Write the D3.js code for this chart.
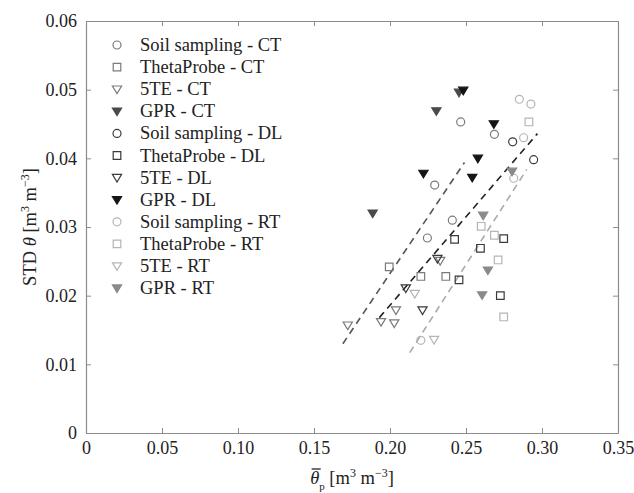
<!DOCTYPE html>
<html>
<head>
<meta charset="utf-8">
<title>STD theta vs mean theta</title>
<script src="https://d3js.org/d3.v7.min.js"></script>
<style>
body { margin: 0; background: #fff; }
</style>
</head>
<body>
<svg id="chart" width="634" height="493"></svg>
<script>
// mean theta_p, STD theta  [m3 m-3]
var soilCT  = [[0.2465, 0.0453], [0.2687, 0.0435], [0.2294, 0.0361], [0.2410, 0.0310], [0.2246, 0.0284]];
var probeCT = [[0.1995, 0.0242], [0.2203, 0.0228], [0.2367, 0.0228]];
var teCT    = [[0.2039, 0.0179], [0.1941, 0.0162], [0.2028, 0.0160], [0.1722, 0.0157], [0.2330, 0.0251]];
var gprCT   = [[0.2454, 0.0496], [0.2305, 0.0469], [0.1886, 0.0320]];

var soilDL  = [[0.2807, 0.0424], [0.2945, 0.0398]];
var probeDL = [[0.2454, 0.0223], [0.2425, 0.0282], [0.2748, 0.0283], [0.2595, 0.0269], [0.2726, 0.0200]];
var teDL    = [[0.2312, 0.0254], [0.2104, 0.0211], [0.2214, 0.0179]];
var gprDL   = [[0.2482, 0.0499], [0.2683, 0.0450], [0.2578, 0.0400], [0.2220, 0.0378], [0.2541, 0.0372]];

var soilRT  = [[0.2851, 0.0486], [0.2927, 0.0479], [0.2879, 0.0430], [0.2814, 0.0371], [0.2203, 0.0135]];
var probeRT = [[0.2914, 0.0453], [0.2600, 0.0301], [0.2687, 0.0288], [0.2711, 0.0252], [0.2748, 0.0169]];
var teRT    = [[0.2163, 0.0203], [0.2290, 0.0136]];
var gprRT   = [[0.2613, 0.0317], [0.2803, 0.0381], [0.2644, 0.0237], [0.2606, 0.0201]];

// fitted lines, end points
var fitCT = [[0.169, 0.0130], [0.249, 0.0394]];
var fitDL = [[0.193, 0.0168], [0.297, 0.0436]];
var fitRT = [[0.213, 0.0117], [0.290, 0.0384]];

var xTicks = [0, 0.05, 0.10, 0.15, 0.20, 0.25, 0.30, 0.35];
var yTicks = [0, 0.01, 0.02, 0.03, 0.04, 0.05, 0.06];

var series = [
  {name: "Soil sampling - CT", data: soilCT,  shape: "circle",  col: "#7a7a7a", filled: false},
  {name: "ThetaProbe - CT",    data: probeCT, shape: "square",  col: "#7a7a7a", filled: false},
  {name: "5TE - CT",           data: teCT,    shape: "tri",     col: "#7a7a7a", filled: false},
  {name: "GPR - CT",           data: gprCT,   shape: "tri",     col: "#4a4a4a", filled: true},
  {name: "Soil sampling - DL", data: soilDL,  shape: "circle",  col: "#3a3a3a", filled: false},
  {name: "ThetaProbe - DL",    data: probeDL, shape: "square",  col: "#3a3a3a", filled: false},
  {name: "5TE - DL",           data: teDL,    shape: "tri",     col: "#3a3a3a", filled: false},
  {name: "GPR - DL",           data: gprDL,   shape: "tri",     col: "#151515", filled: true},
  {name: "Soil sampling - RT", data: soilRT,  shape: "circle",  col: "#b5b5b5", filled: false},
  {name: "ThetaProbe - RT",    data: probeRT, shape: "square",  col: "#b5b5b5", filled: false},
  {name: "5TE - RT",           data: teRT,    shape: "tri",     col: "#b5b5b5", filled: false},
  {name: "GPR - RT",           data: gprRT,   shape: "tri",     col: "#8a8a8a", filled: true}
];
var fits = [
  {data: fitCT, col: "#555"},
  {data: fitDL, col: "#222"},
  {data: fitRT, col: "#aaa"}
];

var svg = d3.select("#chart");
var L = 86, R = 618, T = 21, B = 433;
var serif = "Liberation Serif";

var x = d3.scaleLinear().domain([0, 0.35]).range([L, R]);
var y = d3.scaleLinear().domain([0, 0.06]).range([B, T]);

// axes, matlab style box with inward ticks
var fmt = function(d) { return d === 0 ? "0" : d3.format(".2f")(d); };

svg.append("g").attr("transform", "translate(0," + B + ")")
  .call(d3.axisBottom(x).tickValues(xTicks).tickSizeInner(-5).tickSizeOuter(0).tickPadding(8).tickFormat(fmt));
svg.append("g").attr("transform", "translate(0," + T + ")")
  .call(d3.axisTop(x).tickValues(xTicks).tickSizeInner(-5).tickSizeOuter(0).tickFormat(""));
svg.append("g").attr("transform", "translate(" + L + ",0)")
  .call(d3.axisLeft(y).tickValues(yTicks).tickSizeInner(-5).tickSizeOuter(0).tickPadding(9).tickFormat(fmt));
svg.append("g").attr("transform", "translate(" + R + ",0)")
  .call(d3.axisRight(y).tickValues(yTicks).tickSizeInner(-5).tickSizeOuter(0).tickFormat(""));

svg.selectAll("g").attr("font-family", serif).attr("font-size", 18);
svg.selectAll(".domain").attr("stroke", "#8c8c8c").attr("stroke-width", 1.2);
svg.selectAll(".tick line").attr("stroke", "#8c8c8c");
svg.selectAll(".tick text").attr("fill", "#222");

// fitted lines
var line = d3.line().x(function(d) { return x(d[0]); }).y(function(d) { return y(d[1]); });
svg.selectAll(".fit").data(fits).enter().append("path")
  .attr("class", "fit")
  .attr("d", function(d) { return line(d.data); })
  .attr("fill", "none")
  .attr("stroke", function(d) { return d.col; })
  .attr("stroke-width", 1.6)
  .attr("stroke-dasharray", "7,5");

// marker shapes
function markerPath(shape) {
  if (shape === "circle") return d3.symbol().type(d3.symbolCircle).size(50)();
  if (shape === "square") return "M-3.8,-3.8H3.8V3.8H-3.8Z";
  return "M-4.6,-3.2L4.6,-3.2L0,4.4Z";
}

function drawMarker(sel, s) {
  sel.attr("d", markerPath(s.shape))
    .attr("fill", s.filled ? s.col : "none")
    .attr("stroke", s.col)
    .attr("stroke-width", 1.2);
}

series.forEach(function(s) {
  svg.append("g").selectAll("path").data(s.data).enter().append("path")
    .attr("transform", function(d) { return "translate(" + x(d[0]) + "," + y(d[1]) + ")"; })
    .call(drawMarker, s);
});

// legend
var lg = svg.append("g").attr("font-family", serif).attr("font-size", 18.5).attr("fill", "#222");
series.forEach(function(s, i) {
  var yy = 45 + i * 22.1;
  lg.append("path").attr("transform", "translate(117," + yy + ")").call(drawMarker, s);
  lg.append("text").attr("x", 140).attr("y", yy + 6).text(s.name);
});

// y title
var yt = svg.append("text")
  .attr("transform", "translate(36,227) rotate(-90)")
  .attr("text-anchor", "middle")
  .attr("font-family", serif)
  .attr("font-size", 18.5).attr("fill", "#222");
yt.append("tspan").text("STD ");
yt.append("tspan").attr("font-style", "italic").text("θ");
yt.append("tspan").text(" [m");
yt.append("tspan").attr("baseline-shift", "super").attr("font-size", 12).text("3");
yt.append("tspan").text(" m");
yt.append("tspan").attr("baseline-shift", "super").attr("font-size", 12).text("−3");
yt.append("tspan").text("]");

// x title
var xt = svg.append("text")
  .attr("x", (L + R) / 2).attr("y", 484)
  .attr("text-anchor", "middle")
  .attr("font-family", serif)
  .attr("font-size", 18.5).attr("fill", "#222");
xt.append("tspan").attr("font-style", "italic").text("θ");
xt.append("tspan").attr("baseline-shift", "sub").attr("font-size", 11).text("p");
xt.append("tspan").text(" [m");
xt.append("tspan").attr("baseline-shift", "super").attr("font-size", 12).text("3");
xt.append("tspan").text(" m");
xt.append("tspan").attr("baseline-shift", "super").attr("font-size", 12).text("−3");
xt.append("tspan").text("]");

var ext = xt.node().getExtentOfChar(0);
svg.append("line")
  .attr("x1", ext.x + 1.5).attr("x2", ext.x + ext.width + 1.5)
  .attr("y1", ext.y + 1).attr("y2", ext.y + 1)
  .attr("stroke", "#222").attr("stroke-width", 1.3);
</script>
</body>
</html>
